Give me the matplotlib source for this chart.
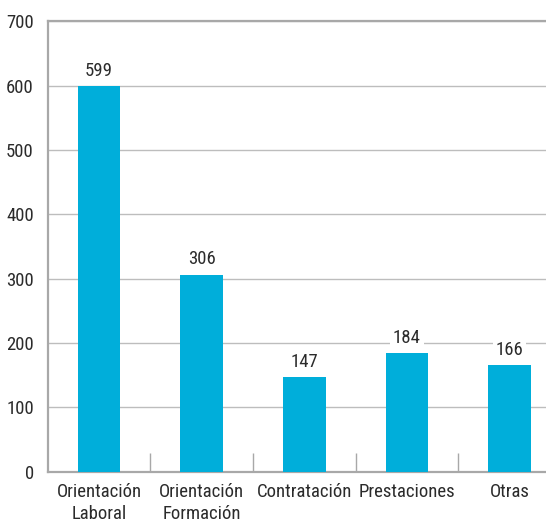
import matplotlib
matplotlib.use("Agg")
import matplotlib.pyplot as plt
from matplotlib import font_manager

# Datos del gráfico
categorias = ["Orientación\nLaboral", "Orientación\nFormación", "Contratación", "Prestaciones", "Otras"]
valores = [599, 306, 147, 184, 166]
ticks_y = [0, 100, 200, 300, 400, 500, 600, 700]

COLOR_BARRA = "#00AEDA"
COLOR_EJE = "#A8A8A8"
COLOR_REJILLA = "#BDBDBD"
COLOR_TEXTO = "#2B2B2B"

# Fuente estrecha parecida a la del original
nombres = {f.name for f in font_manager.fontManager.ttflist}
fuente = "Roboto Condensed" if "Roboto Condensed" in nombres else "DejaVu Sans"
plt.rcParams["font.family"] = [fuente, "DejaVu Sans"]

fig = plt.figure(figsize=(5.46, 5.19), dpi=100)
# el eje sigue un poco más allá del borde derecho, como en el original
ax = fig.add_axes([0.0874, 0.0911, 0.94, 0.868])

x = list(range(len(categorias)))
ax.bar(x, valores, width=0.415, color=COLOR_BARRA, zorder=3)

for xi, v in zip(x, valores):
    ax.text(xi, v + 16, str(v), ha="center", va="baseline", fontsize=13.5, color=COLOR_TEXTO,
            zorder=4, bbox=dict(facecolor="white", edgecolor="none", pad=2))

ax.set_xlim(-0.5, len(categorias) - 0.5)
ax.set_ylim(0, 700)
ax.set_yticks(ticks_y)
ax.set_yticklabels([str(t) for t in ticks_y], fontsize=13.5, color=COLOR_TEXTO)
ax.yaxis.grid(True, color=COLOR_REJILLA, linewidth=1, zorder=0)
ax.tick_params(axis="y", length=0, pad=10)

# Etiquetas de categoría y marcas separadoras entre categorías
ax.set_xticks(x)
ax.set_xticklabels(categorias, fontsize=13.5, color=COLOR_TEXTO, linespacing=1.3)
ax.tick_params(axis="x", which="major", length=0, pad=8)
ax.set_xticks([i + 0.5 for i in x[:-1]], minor=True)
ax.tick_params(axis="x", which="minor", direction="in", length=14, color=COLOR_EJE, width=1)

for lado in ["left", "top", "bottom"]:
    ax.spines[lado].set_color(COLOR_EJE)
    ax.spines[lado].set_linewidth(1.6)
ax.spines["right"].set_visible(False)

fig.savefig("out.png", dpi=100)
